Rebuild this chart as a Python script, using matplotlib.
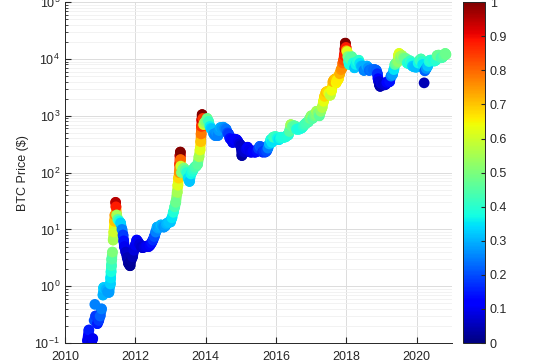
import numpy as np
import matplotlib.pyplot as plt
from matplotlib.collections import LineCollection

plt.rcParams['font.family'] = ['Liberation Sans', 'DejaVu Sans']
plt.rcParams['mathtext.fontset'] = 'custom'
plt.rcParams['mathtext.rm'] = 'Liberation Sans'
plt.rcParams['mathtext.default'] = 'regular'

# decimal year, BTC price ($), colour value (0..1)
years = [
    2010.64, 2010.68, 2010.75, 2010.79, 2010.83, 2010.85, 2010.87, 2010.92, 2010.96,
    2011.00, 2011.04, 2011.08, 2011.10, 2011.13, 2011.17, 2011.21, 2011.25, 2011.29,
    2011.30, 2011.31, 2011.32, 2011.33, 2011.35, 2011.37, 2011.39, 2011.41, 2011.42,
    2011.44, 2011.45,
    2011.47, 2011.50, 2011.54, 2011.58, 2011.62, 2011.65, 2011.67, 2011.69, 2011.73,
    2011.77, 2011.81, 2011.85, 2011.88, 2011.92, 2011.96,
    2012.00, 2012.04, 2012.08, 2012.12, 2012.17, 2012.21, 2012.25, 2012.29, 2012.33,
    2012.38, 2012.42, 2012.46, 2012.50, 2012.54, 2012.58, 2012.62, 2012.65, 2012.69,
    2012.73, 2012.77, 2012.81, 2012.85, 2012.88, 2012.92, 2012.96,
    2013.00, 2013.04, 2013.08, 2013.12, 2013.15, 2013.19, 2013.21, 2013.23, 2013.25,
    2013.26, 2013.27, 2013.28, 2013.285, 2013.29, 2013.31, 2013.35, 2013.38, 2013.42,
    2013.46,
    2013.50, 2013.54, 2013.58, 2013.62, 2013.65, 2013.69, 2013.73, 2013.77, 2013.81,
    2013.84, 2013.86, 2013.87, 2013.88, 2013.89, 2013.90, 2013.92, 2013.94, 2013.96,
    2014.00, 2014.04, 2014.08, 2014.12, 2014.15, 2014.19, 2014.23, 2014.27, 2014.31,
    2014.35, 2014.38, 2014.42, 2014.46, 2014.50, 2014.54, 2014.58, 2014.62, 2014.65,
    2014.69, 2014.73, 2014.77, 2014.81, 2014.85, 2014.88, 2014.92, 2014.96,
    2015.00, 2015.03, 2015.05, 2015.08, 2015.12, 2015.15, 2015.19, 2015.23, 2015.27,
    2015.31, 2015.35, 2015.38, 2015.42, 2015.46, 2015.50, 2015.54, 2015.58, 2015.62,
    2015.65, 2015.69, 2015.73, 2015.77, 2015.81, 2015.85, 2015.88, 2015.92, 2015.96,
    2016.00, 2016.04, 2016.08, 2016.12, 2016.15, 2016.19, 2016.23, 2016.27, 2016.31,
    2016.35, 2016.38, 2016.42, 2016.46, 2016.50, 2016.54, 2016.58, 2016.62, 2016.65,
    2016.69, 2016.73, 2016.77, 2016.81, 2016.85, 2016.88, 2016.92, 2016.96,
    2017.00, 2017.04, 2017.08, 2017.12, 2017.15, 2017.19, 2017.23, 2017.27, 2017.31,
    2017.35, 2017.38, 2017.42, 2017.46, 2017.50, 2017.54, 2017.58, 2017.62, 2017.65,
    2017.69, 2017.71, 2017.73, 2017.77, 2017.81, 2017.85, 2017.88, 2017.90, 2017.92,
    2017.94, 2017.96, 2017.97, 2017.99,
    2018.00, 2018.02, 2018.04, 2018.06, 2018.08, 2018.10, 2018.12, 2018.15, 2018.19,
    2018.23, 2018.27, 2018.31, 2018.35, 2018.38, 2018.42, 2018.46, 2018.50, 2018.54,
    2018.58, 2018.62, 2018.65, 2018.69, 2018.73, 2018.77, 2018.81, 2018.85, 2018.88,
    2018.90, 2018.92, 2018.94, 2018.96, 2018.98,
    2019.00, 2019.04, 2019.08, 2019.12, 2019.15, 2019.19, 2019.23, 2019.27, 2019.31,
    2019.35, 2019.38, 2019.42, 2019.46, 2019.48, 2019.50, 2019.52, 2019.54, 2019.58,
    2019.62, 2019.65, 2019.69, 2019.73, 2019.77, 2019.81, 2019.85, 2019.88, 2019.92,
    2019.96,
    2020.00, 2020.04, 2020.08, 2020.12, 2020.15, 2020.17, 2020.21, 2020.23, 2020.27,
    2020.31, 2020.35, 2020.38, 2020.42, 2020.46, 2020.50, 2020.54, 2020.58, 2020.62,
    2020.65, 2020.69, 2020.73, 2020.77, 2020.81, 2020.83,
]
price = [
    0.11, 0.17, 0.10, 0.12, 0.25, 0.48, 0.30, 0.22, 0.25,
    0.30, 0.40, 0.70, 0.95, 0.90, 0.87, 0.80, 0.78, 1.10,
    1.40, 1.80, 2.30, 3.00, 4.00, 6.50, 9.00, 14.0, 18.0,
    30.0, 25.0,
    18.0, 15.0, 14.0, 13.0, 10.0, 8.00, 6.30, 5.00, 4.00,
    3.20, 2.50, 2.30, 2.90, 3.30, 4.30,
    5.30, 6.50, 6.00, 5.50, 4.90, 4.80, 4.90, 5.00, 5.10,
    5.00, 5.30, 5.80, 6.50, 7.50, 9.00, 11.0, 10.5, 11.0,
    12.0, 11.5, 11.0, 11.5, 12.5, 13.0, 13.5,
    13.5, 16.0, 20.0, 25.0, 30.0, 45.0, 60.0, 80.0, 100,
    140, 200, 230, 170, 130, 100, 115, 120, 110,
    100,
    80, 70, 95, 105, 115, 125, 130, 140, 190,
    250, 350, 480, 650, 850, 1050, 900, 700, 750,
    800, 900, 800, 650, 600, 580, 480, 450, 500,
    450, 550, 620, 600, 630, 600, 580, 500, 480,
    400, 380, 340, 390, 370, 380, 350, 320,
    300, 200, 230, 240, 230, 260, 280, 250, 230,
    230, 240, 230, 230, 240, 265, 290, 280, 230,
    240, 230, 240, 270, 320, 380, 340, 420, 430,
    430, 400, 380, 400, 420, 415, 420, 425, 450,
    460, 530, 700, 650, 670, 660, 580, 590, 580,
    600, 610, 650, 700, 740, 760, 780, 900,
    1000, 900, 1000, 1050, 1200, 1100, 1000, 1200, 1400,
    1800, 2200, 2600, 2700, 2500, 2300, 2800, 4000, 4300,
    4500, 3800, 4200, 4400, 5500, 6500, 7000, 8500, 9500,
    11500, 15000, 19000, 16000,
    14000, 13500, 11000, 9000, 8000, 10000, 10500, 11000, 8500,
    7000, 8000, 9000, 9500, 8400, 7500, 7500, 6300, 6500,
    7500, 7000, 6300, 6500, 6500, 6400, 6500, 6300, 5500,
    4500, 4000, 3500, 3300, 3800,
    3800, 3600, 3500, 3600, 3900, 3900, 4000, 5000, 5300,
    6500, 8000, 8500, 9000, 11500, 12500, 11000, 10000, 11500,
    10500, 10000, 10200, 8500, 8300, 9300, 8500, 7500, 7300,
    7200,
    7200, 8500, 9500, 10000, 9000, 8000, 3800, 6200, 6800,
    7500, 9000, 9500, 9500, 9300, 9200, 9500, 11500, 11700,
    11500, 10500, 10700, 11500, 12500, 12000,
]
heat = [
    0.10, 0.15, 0.08, 0.10, 0.20, 0.25, 0.18, 0.15, 0.18,
    0.22, 0.25, 0.30, 0.33, 0.32, 0.30, 0.28, 0.28, 0.33,
    0.35, 0.38, 0.42, 0.45, 0.50, 0.55, 0.60, 0.70, 0.75,
    0.95, 0.88,
    0.55, 0.45, 0.38, 0.33, 0.25, 0.18, 0.14, 0.10, 0.07,
    0.05, 0.03, 0.02, 0.03, 0.05, 0.08,
    0.10, 0.12, 0.10, 0.08, 0.07, 0.07, 0.08, 0.09, 0.10,
    0.10, 0.12, 0.14, 0.17, 0.20, 0.25, 0.30, 0.28, 0.29,
    0.31, 0.29, 0.27, 0.28, 0.30, 0.31, 0.32,
    0.32, 0.35, 0.39, 0.44, 0.48, 0.55, 0.62, 0.68, 0.75,
    0.85, 0.95, 1.00, 0.80, 0.60, 0.50, 0.50, 0.50, 0.45,
    0.40,
    0.35, 0.32, 0.37, 0.39, 0.41, 0.43, 0.44, 0.46, 0.55,
    0.62, 0.70, 0.78, 0.85, 0.92, 1.00, 0.85, 0.60, 0.55,
    0.50, 0.48, 0.42, 0.36, 0.33, 0.32, 0.27, 0.25, 0.27,
    0.25, 0.28, 0.30, 0.28, 0.28, 0.26, 0.24, 0.20, 0.18,
    0.14, 0.12, 0.10, 0.12, 0.11, 0.11, 0.10, 0.08,
    0.06, 0.03, 0.05, 0.07, 0.07, 0.09, 0.11, 0.10, 0.09,
    0.10, 0.11, 0.11, 0.12, 0.14, 0.18, 0.22, 0.21, 0.16,
    0.18, 0.18, 0.20, 0.25, 0.31, 0.38, 0.35, 0.41, 0.43,
    0.41, 0.37, 0.35, 0.37, 0.38, 0.38, 0.38, 0.38, 0.39,
    0.39, 0.45, 0.55, 0.48, 0.47, 0.45, 0.39, 0.39, 0.38,
    0.38, 0.38, 0.40, 0.42, 0.43, 0.43, 0.44, 0.48,
    0.52, 0.45, 0.48, 0.50, 0.55, 0.50, 0.46, 0.52, 0.57,
    0.63, 0.68, 0.70, 0.68, 0.63, 0.58, 0.64, 0.72, 0.72,
    0.70, 0.65, 0.66, 0.66, 0.72, 0.75, 0.76, 0.80, 0.83,
    0.88, 0.95, 1.00, 0.88,
    0.75, 0.62, 0.50, 0.42, 0.38, 0.45, 0.45, 0.46, 0.38,
    0.32, 0.36, 0.38, 0.40, 0.35, 0.31, 0.30, 0.25, 0.26,
    0.30, 0.27, 0.23, 0.24, 0.24, 0.23, 0.23, 0.22, 0.17,
    0.12, 0.08, 0.05, 0.04, 0.08,
    0.08, 0.07, 0.07, 0.08, 0.11, 0.12, 0.14, 0.25, 0.28,
    0.35, 0.45, 0.48, 0.52, 0.60, 0.62, 0.55, 0.50, 0.55,
    0.50, 0.48, 0.48, 0.40, 0.38, 0.42, 0.38, 0.33, 0.32,
    0.31,
    0.31, 0.37, 0.42, 0.44, 0.40, 0.35, 0.05, 0.22, 0.27,
    0.32, 0.38, 0.40, 0.40, 0.39, 0.38, 0.40, 0.47, 0.48,
    0.47, 0.43, 0.44, 0.46, 0.48, 0.48,
]

txt = '#262626'
fig = plt.figure(figsize=(5.6, 3.6), dpi=100)
ax = fig.add_axes([0.116, 0.047, 0.691, 0.947])
cax = fig.add_axes([0.827, 0.047, 0.039, 0.947])

ax.set_yscale('log')
ax.set_ylim(0.1, 1e5)
ax.set_xlim(2010, 2021)

# thick band between neighbouring samples so the dots read as one ribbon
x = np.array(years)
y = np.array(price)
h = np.array(heat)
segs, segc = [], []
for i in range(len(x) - 1):
    if abs(np.log10(y[i + 1] / y[i])) < 0.2:
        segs.append([(x[i], y[i]), (x[i + 1], y[i + 1])])
        segc.append((h[i] + h[i + 1]) / 2)
lc = LineCollection(segs, cmap='jet', linewidths=7.5, capstyle='round', zorder=2)
lc.set_array(np.array(segc))
lc.set_clim(0, 1)
ax.add_collection(lc)

sc = ax.scatter(x, y, c=h, cmap='jet', vmin=0, vmax=1, s=60,
                edgecolors='none', zorder=3)

ax.set_xticks(np.arange(2010, 2021, 2))
ax.set_ylabel('BTC Price ($)', fontsize=9, color=txt)

ax.grid(True, which='major', color='#dcdcdc', linewidth=0.7, zorder=0)
ax.grid(True, which='minor', axis='y', color='#f0f0f0', linewidth=0.6, zorder=0)
ax.set_axisbelow(True)
for s in ['top', 'right']:
    ax.spines[s].set_visible(False)
for s in ['left', 'bottom']:
    ax.spines[s].set_color(txt)
    ax.spines[s].set_linewidth(0.7)
ax.tick_params(which='both', direction='in', colors=txt, labelsize=9)
ax.tick_params(which='major', length=4)
ax.tick_params(which='minor', length=2)
ax.tick_params(axis='x', pad=6)

cb = fig.colorbar(sc, cax=cax)
cb.set_ticks(np.arange(0, 1.01, 0.1))
cb.set_ticklabels(['0', '0.1', '0.2', '0.3', '0.4', '0.5', '0.6', '0.7', '0.8', '0.9', '1'])
cb.ax.tick_params(direction='in', length=3, colors=txt, labelsize=9)
cb.outline.set_edgecolor(txt)
cb.outline.set_linewidth(0.7)

fig.savefig('out.png', dpi=100)
